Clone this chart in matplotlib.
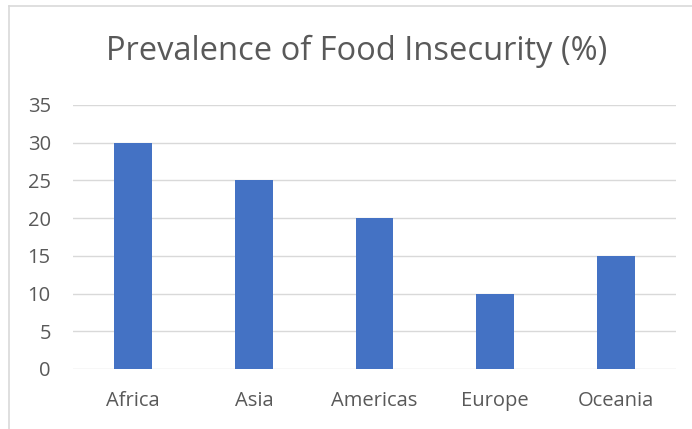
import matplotlib
matplotlib.use("Agg")
import matplotlib.pyplot as plt
from matplotlib.lines import Line2D

categories = ["Africa", "Asia", "Americas", "Europe", "Oceania"]
values = [30, 25, 20, 10, 15]
yticks = [0, 5, 10, 15, 20, 25, 30, 35]
title = "Prevalence of Food Insecurity (%)"

plt.rcParams['font.family'] = ['Open Sans', 'DejaVu Sans']
fig = plt.figure(figsize=(6.92, 4.29), dpi=100)
ax = fig.add_axes([73/692, 1-369/429, (676-73)/692, (369-105)/429])

x = range(len(categories))
ax.bar(x, values, width=0.315, color="#4472C4", zorder=3)
ax.set_xlim(-0.5, len(categories) - 0.5)
ax.set_ylim(0, 35)
ax.set_yticks(yticks)
ax.set_xticks(list(x))
ax.set_xticklabels(categories)
ax.grid(axis='y', color="#d9d9d9", linewidth=1, zorder=0)
for s in ax.spines.values():
    s.set_visible(False)
ax.tick_params(length=0, colors="#595959", labelsize=14.5)
ax.tick_params(axis='y', pad=16)
ax.tick_params(axis='x', pad=16)
for lbl in ax.get_yticklabels():
    lbl.set_horizontalalignment('right')

fig.text(357/692, 1-51/429, title, ha='center', va='center', fontsize=23.5, color="#595959")

# chart border (left and top visible)
fig.add_artist(Line2D([9/692, 9/692], [0, 1-6/429], transform=fig.transFigure, color="#d9d9d9", lw=1.2))
fig.add_artist(Line2D([9/692, 1], [1-6/429, 1-6/429], transform=fig.transFigure, color="#d9d9d9", lw=1.2))

fig.savefig("out.png", dpi=100)
